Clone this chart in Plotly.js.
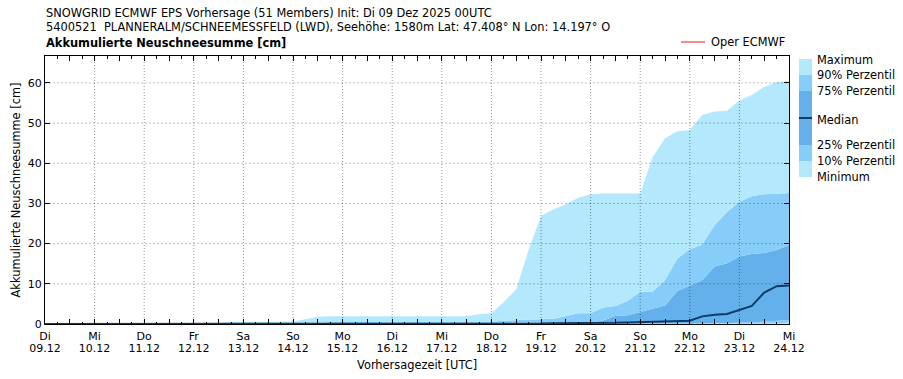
<!DOCTYPE html>
<html>
<head>
<meta charset="utf-8">
<script src="https://cdn.plot.ly/plotly-3.0.1.min.js"></script>
<style>
html,body{margin:0;padding:0;background:#fff;}
#chart{width:903px;height:379px;}
</style>
</head>
<body>
<div id="chart"></div>
<script>
// ---- Data (6-hourly, 09.12.2025 00UTC .. 24.12.2025 00UTC, 61 steps) ----
const startDate = '2025-12-09';
const stepHours = 6;

const seriesMax = [0,0,0,0,0,0,0,0,0,0,0,0,0,0.1,0.3,0.5,0.5,0.5,0.6,0.6,
  0.6,1.2,1.8,1.9,1.9,1.9,1.9,1.9,1.9,1.9,1.9,1.9,1.9,1.9,1.9,2.4,
  2.7,5.5,8.6,18.4,26.9,28.5,29.8,31.4,32.3,32.5,32.5,32.5,32.5,41.5,
  46.2,48.0,48.3,52.0,52.9,53.1,55.6,57.0,59.0,60.2,60.5];
const seriesP90 = [0,0,0,0,0,0,0,0,0,0,0,0,0,0,0,0,0,0,0,0,
  0.1,0.2,0.4,0.5,0.5,0.5,0.5,0.5,0.5,0.5,0.5,0.5,0.5,0.5,0.5,0.5,
  0.6,0.8,1.0,1.1,1.2,1.3,1.9,2.7,2.7,4.1,4.5,5.8,8.0,8.0,
  10.9,16.3,18.6,19.7,24.6,27.9,30.4,31.8,32.3,32.5,32.6];
const seriesP75 = [0,0,0,0,0,0,0,0,0,0,0,0,0,0,0,0,0,0,0,0,
  0,0,0,0,0.1,0.1,0.1,0.1,0.1,0.1,0.1,0.1,0.1,0.1,0.1,0.1,
  0.2,0.3,0.3,0.3,0.3,0.3,0.3,0.3,0.4,0.9,2.0,2.2,3.0,3.8,
  4.6,8.2,9.5,10.9,14.3,15.1,16.8,17.4,17.7,18.4,19.6];
const seriesMedian = [0,0,0,0,0,0,0,0,0,0,0,0,0,0,0,0,0,0,0,0,
  0,0,0,0,0,0,0,0,0,0,0,0,0,0,0,0,
  0,0,0,0,0.1,0.2,0.2,0.2,0.3,0.3,0.3,0.4,0.5,0.6,
  0.7,0.75,0.8,1.9,2.3,2.5,3.5,4.5,7.8,9.4,9.6];
const seriesP25 = [0,0,0,0,0,0,0,0,0,0,0,0,0,0,0,0,0,0,0,0,
  0,0,0,0,0,0,0,0,0,0,0,0,0,0,0,0,
  0,0,0,0,0,0,0,0,0,0,0,0,0,0,
  0,0,0.1,0.1,0.2,0.2,0.3,0.4,0.6,0.8,1.0];
const seriesP10 = [0,0,0,0,0,0,0,0,0,0,0,0,0,0,0,0,0,0,0,0,
  0,0,0,0,0,0,0,0,0,0,0,0,0,0,0,0,
  0,0,0,0,0,0,0,0,0,0,0,0,0,0,
  0,0,0,0,0,0,0.1,0.1,0.1,0.2,0.3];
const seriesMin = [0,0,0,0,0,0,0,0,0,0,0,0,0,0,0,0,0,0,0,0,
  0,0,0,0,0,0,0,0,0,0,0,0,0,0,0,0,
  0,0,0,0,0,0,0,0,0,0,0,0,0,0,
  0,0,0,0,0,0,0,0,0,0,0];

const dayNames  = ['Di','Mi','Do','Fr','Sa','So','Mo','Di','Mi','Do','Fr','Sa','So','Mo','Di','Mi'];
const dayDates  = ['09.12','10.12','11.12','12.12','13.12','14.12','15.12','16.12','17.12','18.12','19.12','20.12','21.12','22.12','23.12','24.12'];
const dayStamps = ['2025-12-09','2025-12-10','2025-12-11','2025-12-12','2025-12-13','2025-12-14','2025-12-15','2025-12-16','2025-12-17','2025-12-18','2025-12-19','2025-12-20','2025-12-21','2025-12-22','2025-12-23','2025-12-24'];
const yTicks = [0,10,20,30,40,50,60];

const legendLabels = ['Maximum','90% Perzentil','75% Perzentil','Median','25% Perzentil','10% Perzentil','Minimum'];

// ---- Styles ----
const C_LIGHT = '#b3e8fd';
const C_MID = '#87cdfa';
const C_DARK = '#63b0ea';
const C_MED = '#0b3b69';
const FONT = 'DejaVu Sans, Verdana, sans-serif';
const FS = 11.4;   // general text size
const FT = 11;     // tick label size

// time axis
function fmt(d){ const s=d.toISOString(); return s.slice(0,10)+' '+s.slice(11,16); }
const t0 = new Date(startDate+'T00:00:00Z').getTime();
const times = seriesMax.map((_,i)=>fmt(new Date(t0 + i*stepHours*3600e3)));

function band(y, color){
  return {x: times, y: y, type:'scatter', mode:'lines', line:{width:0, color:color},
          fill:'tonexty', fillcolor:color, hoverinfo:'skip', showlegend:false};
}
const traces = [
  {x: times, y: seriesMin, type:'scatter', mode:'lines', line:{width:0,color:C_LIGHT}, showlegend:false, hoverinfo:'skip'},
  band(seriesP10, C_LIGHT),
  band(seriesP25, C_MID),
  band(seriesP75, C_DARK),
  band(seriesP90, C_MID),
  band(seriesMax, C_LIGHT),
  {x: times, y: seriesMedian, type:'scatter', mode:'lines', line:{width:2, color:C_MED}, showlegend:false, hoverinfo:'skip'},
  // invisible carrier so the second (date-label) x axis is drawn
  {x: times, y: seriesMin, xaxis:'x2', yaxis:'y', type:'scatter', mode:'lines', line:{width:0}, opacity:0, showlegend:false, hoverinfo:'skip'}
];

// tick values at 00 and 12 UTC
const tickvals=[], tickDay=[], tickDate=[];
dayStamps.forEach((d,i)=>{
  tickvals.push(d+' 00:00'); tickDay.push(dayNames[i]); tickDate.push(dayDates[i]);
  if(i<dayStamps.length-1){ tickvals.push(d+' 12:00'); tickDay.push(''); tickDate.push(''); }
});
const xRange = [dayStamps[0]+' 00:00', dayStamps[dayStamps.length-1]+' 00:00'];

// plot geometry in pixels
const L=45, R=789, T=56, B=324, W=903, H=379;
const px = x => (x-L)/(R-L);
const py = y => (B-y)/(B-T);

const shapes = [];
// grid lines (drawn above the fills, as in the reference)
dayStamps.slice(1,-1).forEach(d=>{
  shapes.push({type:'line', xref:'x', yref:'paper', x0:d+' 00:00', x1:d+' 00:00', y0:0, y1:1,
    line:{color:'rgba(0,0,0,0.42)', width:1, dash:'1px,2px'}, layer:'above'});
});
yTicks.slice(1).forEach(v=>{
  shapes.push({type:'line', xref:'paper', yref:'y', x0:0, x1:1, y0:v, y1:v,
    line:{color:'rgba(0,0,0,0.25)', width:1, dash:'2px,2px'}, layer:'above'});
});
// custom legend
const lx0=px(799), lx1=px(812);
[[59,75,C_LIGHT],[75,91,C_MID],[91,145,C_DARK],[145,161,C_MID],[161,177,C_LIGHT]].forEach(b=>{
  shapes.push({type:'rect', xref:'paper', yref:'paper', x0:lx0, x1:lx1, y0:py(b[1]), y1:py(b[0]),
    fillcolor:b[2], line:{width:0}, layer:'above'});
});
shapes.push({type:'line', xref:'paper', yref:'paper', x0:lx0, x1:lx1, y0:py(118), y1:py(118),
  line:{color:C_MED, width:2}, layer:'above'});
shapes.push({type:'line', xref:'paper', yref:'paper', x0:px(681), x1:px(705), y0:py(42), y1:py(42),
  line:{color:'#e8413c', width:1.2}, layer:'above'});

const ann = [];
const labelY = [59.5,75,91,120,145,161,177];
legendLabels.forEach((t,i)=>{
  ann.push({xref:'paper', yref:'paper', x:px(815), y:py(labelY[i]), xanchor:'left', yanchor:'middle',
    text:t, showarrow:false, font:{family:FONT, size:FS, color:'#000'}});
});
ann.push({xref:'paper', yref:'paper', x:px(709), y:py(42), xanchor:'left', yanchor:'middle',
  text:'Oper ECMWF', showarrow:false, font:{family:FONT, size:FS, color:'#000'}});
ann.push({xref:'paper', yref:'paper', x:px(44), y:py(12.5), xanchor:'left', yanchor:'middle',
  text:'SNOWGRID ECMWF EPS Vorhersage (51 Members) Init: Di 09 Dez 2025 00UTC', showarrow:false,
  font:{family:FONT, size:FS, color:'#000'}});
ann.push({xref:'paper', yref:'paper', x:px(44), y:py(27), xanchor:'left', yanchor:'middle',
  text:'5400521  PLANNERALM/SCHNEEMESSFELD (LWD), Seehöhe: 1580m Lat: 47.408° N Lon: 14.197° O', showarrow:false,
  font:{family:FONT, size:FS, color:'#000'}});
ann.push({xref:'paper', yref:'paper', x:px(44), y:py(42.5), xanchor:'left', yanchor:'middle',
  text:'<b>Akkumulierte Neuschneesumme [cm]</b>', showarrow:false,
  font:{family:FONT, size:FS, color:'#000'}});
ann.push({xref:'paper', yref:'paper', x:0.5, y:py(364.5), xanchor:'center', yanchor:'middle',
  text:'Vorhersagezeit [UTC]', showarrow:false, font:{family:FONT, size:FS, color:'#000'}});

const layout = {
  width:W, height:H,
  margin:{l:L, r:W-R, t:T, b:H-B, pad:0},
  paper_bgcolor:'#fff', plot_bgcolor:'#fff',
  font:{family:FONT, size:FT, color:'#000'},
  showlegend:false,
  xaxis:{
    type:'date', range:xRange,
    tickmode:'array', tickvals:tickvals, ticktext:tickDay,
    ticks:'inside', ticklen:5, tickwidth:1, tickcolor:'#000',
    minor:{dtick:stepHours*3600e3, tick0:dayStamps[0], ticks:'inside', ticklen:2.5, tickcolor:'#000', tickwidth:1, showgrid:false},
    showline:true, linecolor:'#000', linewidth:1, mirror:'ticks',
    showgrid:false, zeroline:false, tickangle:0, ticklabelstandoff:2,
    tickfont:{family:FONT, size:FT, color:'#000'}
  },
  xaxis2:{
    type:'date', range:xRange, overlaying:'x', anchor:'y', side:'bottom',
    tickmode:'array', tickvals:tickvals, ticktext:tickDate,
    ticks:'', showline:false, showgrid:false, zeroline:false, tickangle:0,
    ticklabelstandoff:16,
    tickfont:{family:FONT, size:FT, color:'#000'}
  },
  yaxis:{
    range:[0,66.7], tickmode:'array', tickvals:yTicks,
    ticks:'inside', ticklen:5, tickwidth:1, tickcolor:'#000',
    showline:true, linecolor:'#000', linewidth:1, mirror:'ticks',
    showgrid:false, zeroline:false,
    tickfont:{family:FONT, size:FT, color:'#000'},
    title:{text:'Akkumulierte Neuschneesumme [cm]', font:{family:FONT, size:FS, color:'#000'}, standoff:4}
  },
  shapes:shapes,
  annotations:ann
};

Plotly.newPlot('chart', traces, layout, {staticPlot:true, displayModeBar:false});
</script>
</body>
</html>
